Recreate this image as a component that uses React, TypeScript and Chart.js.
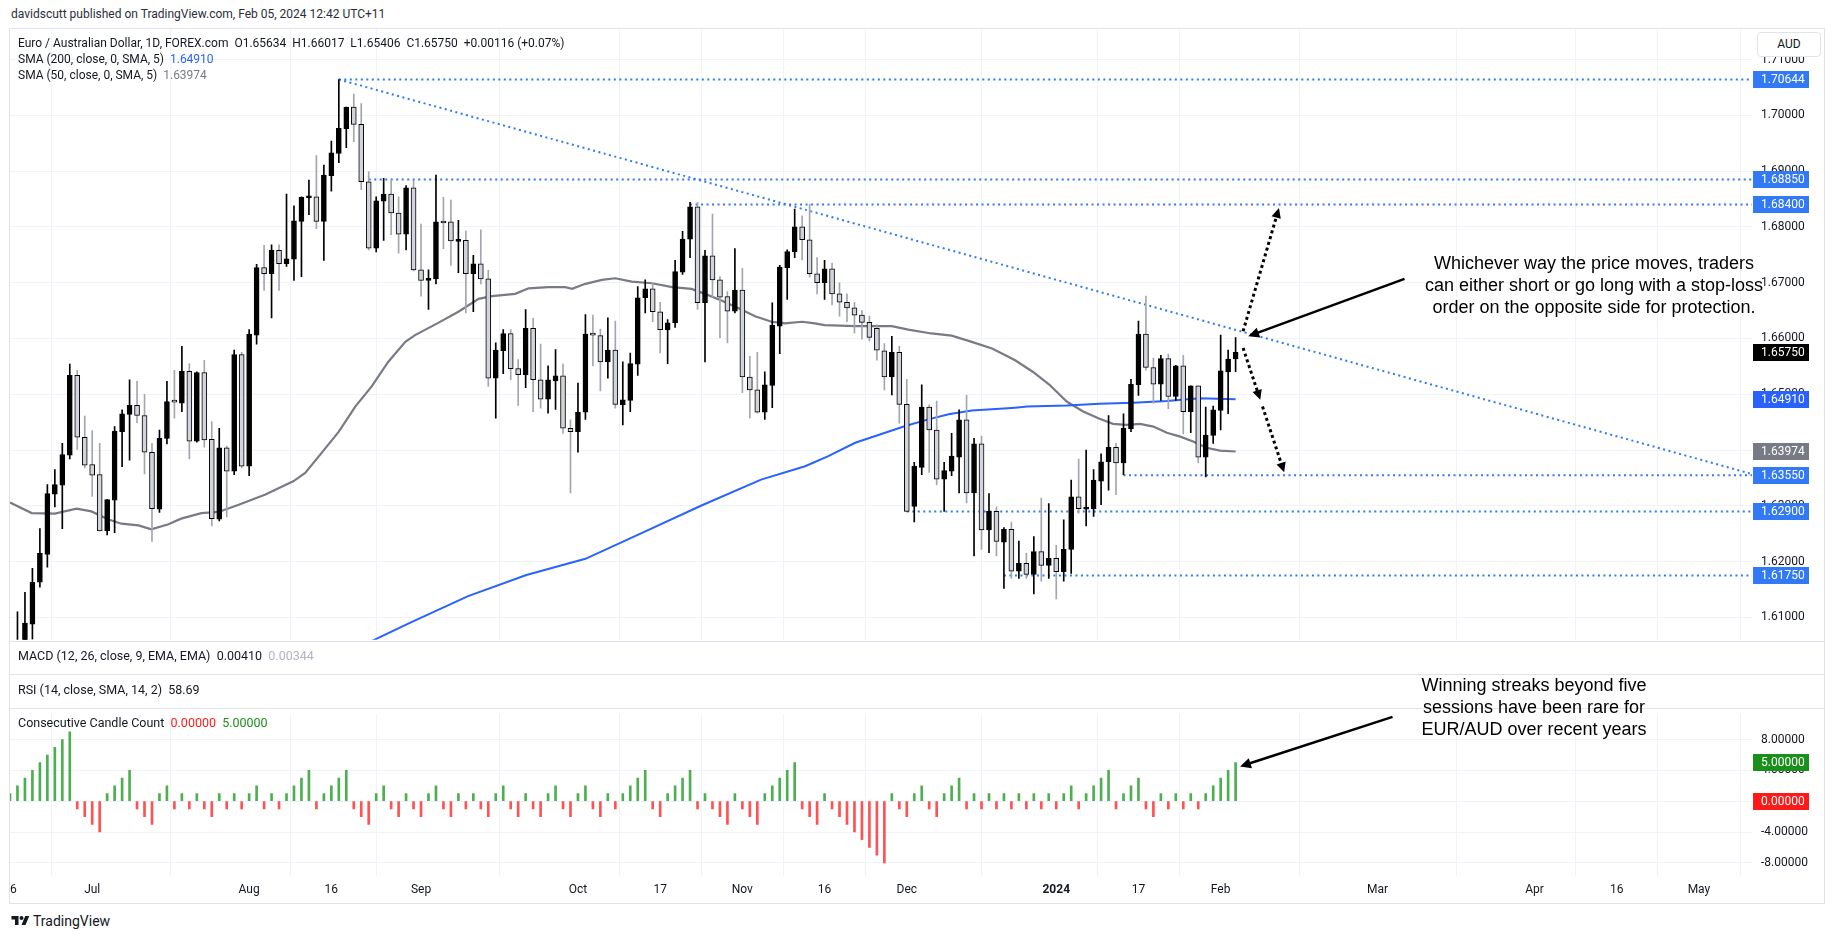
import React, { useEffect, useRef } from 'react';
import { Chart, registerables } from 'chart.js';
Chart.register(...registerables);

const FONT = "Roboto, 'Liberation Sans', Arial, sans-serif";

// ---------- price data (daily bars, index 0 = Jun 16 2023, 164 = Feb 05 2024) ----------
const OPEN = [
  1.5985,1.6008,1.6045,1.6088,1.6163,1.6213,1.6321,1.6337,1.6391,1.6534,
  1.6423,1.6374,1.6356,1.6255,1.6310,1.6433,1.6464,1.6480,1.6462,1.6396,
  1.6294,1.6421,1.6488,1.6484,1.6541,1.6416,1.6539,1.6419,1.6276,1.6404,
  1.6362,1.6571,1.6371,1.6606,1.6727,1.6716,1.6758,1.6734,1.6742,1.6810,
  1.6852,1.6854,1.6810,1.6892,1.6932,1.6976,1.7015,1.6984,1.6881,1.6762,
  1.6846,1.6859,1.6825,1.6787,1.6870,1.6723,1.6704,1.6707,1.6809,1.6809,
  1.6774,1.6776,1.6716,1.6734,1.6707,1.6529,1.6578,1.6609,1.6546,1.6535,
  1.6618,1.6526,1.6491,1.6524,1.6533,1.6439,1.6433,1.6468,1.6608,1.6605,
  1.6558,1.6579,1.6481,1.6489,1.6554,1.6673,1.6689,1.6648,1.6616,1.6628,
  1.6719,1.6778,1.6836,1.6664,1.6748,1.6705,1.6675,1.6649,1.6687,1.6531,
  1.6508,1.6468,1.6516,1.6622,1.6727,1.6755,1.6800,1.6777,1.6716,1.6700,
  1.6725,1.6680,1.6665,1.6655,1.6642,1.6629,1.6618,1.6578,1.6531,1.6575,
  1.6482,1.6299,1.6369,1.6477,1.6436,1.6348,1.6362,1.6387,1.6454,1.6323,
  1.6411,1.6257,1.6290,1.6235,1.6258,1.6183,1.6197,1.6177,1.6218,1.6193,
  1.6206,1.6182,1.6222,1.6316,1.6294,1.6295,1.6344,1.6379,1.6405,1.6377,
  1.6438,1.6517,1.6608,1.6548,1.6518,1.6564,1.6496,1.6551,1.6469,1.6515,
  1.6387,1.6426,1.6471,1.6540,1.65634,
];
const HIGH = [
  1.6030,1.6110,1.6145,1.6188,1.6259,1.6338,1.6365,1.6412,1.6554,1.6543,
  1.6461,1.6435,1.6412,1.6311,1.6442,1.6472,1.6526,1.6523,1.6500,1.6412,
  1.6436,1.6523,1.6543,1.6586,1.6555,1.6540,1.6561,1.6451,1.6439,1.6407,
  1.6579,1.6575,1.6616,1.6733,1.6767,1.6768,1.6768,1.6859,1.6838,1.6854,
  1.6884,1.6928,1.6911,1.6954,1.70644,1.7015,1.7038,1.7021,1.6899,1.6854,
  1.6887,1.6884,1.6854,1.6874,1.6884,1.6805,1.6723,1.6893,1.6853,1.6848,
  1.6812,1.6793,1.6749,1.6795,1.6722,1.6592,1.6616,1.6616,1.6562,1.6652,
  1.6636,1.6590,1.6551,1.6580,1.6554,1.6454,1.6520,1.6643,1.6642,1.6617,
  1.6637,1.6631,1.6558,1.6574,1.6693,1.6705,1.6699,1.6665,1.6634,1.6740,
  1.6792,1.6844,1.6844,1.6758,1.6823,1.6711,1.6684,1.6761,1.6726,1.6568,
  1.6575,1.6540,1.6664,1.6731,1.6759,1.6832,1.6820,1.6841,1.6745,1.6740,
  1.6735,1.6700,1.6680,1.6665,1.6650,1.6640,1.6625,1.6591,1.6604,1.6586,
  1.6527,1.6378,1.6517,1.6481,1.6488,1.6378,1.6430,1.6472,1.6498,1.6421,
  1.6425,1.6322,1.6298,1.6261,1.6271,1.6237,1.6215,1.6245,1.6314,1.6304,
  1.6229,1.6275,1.6346,1.6384,1.6400,1.6365,1.6393,1.6462,1.6412,1.6465,
  1.6527,1.6631,1.6676,1.6565,1.6570,1.6572,1.6552,1.6570,1.6515,1.6515,
  1.6477,1.6479,1.6606,1.6579,1.66017,
];
const LOW = [
  1.5970,1.5995,1.6040,1.6061,1.6154,1.6190,1.6298,1.6259,1.6384,1.6401,
  1.6368,1.6317,1.6255,1.6248,1.6252,1.6370,1.6382,1.6449,1.6357,1.6236,
  1.6288,1.6411,1.6457,1.6469,1.6384,1.6414,1.6405,1.6264,1.6273,1.6280,
  1.6356,1.6368,1.6354,1.6590,1.6686,1.6637,1.6686,1.6729,1.6704,1.6711,
  1.6822,1.6797,1.6740,1.6864,1.6915,1.6942,1.6953,1.6867,1.6759,1.6755,
  1.6776,1.6786,1.6753,1.6759,1.6721,1.6676,1.6652,1.6698,1.6761,1.6731,
  1.6718,1.6646,1.6648,1.6698,1.6514,1.6457,1.6537,1.6526,1.6480,1.6512,
  1.6469,1.6475,1.6466,1.6473,1.6430,1.6323,1.6396,1.6455,1.6551,1.6506,
  1.6529,1.6475,1.6445,1.6469,1.6534,1.6646,1.6630,1.6574,1.6555,1.6620,
  1.6715,1.6745,1.6652,1.6558,1.6674,1.6601,1.6592,1.6646,1.6503,1.6457,
  1.6466,1.6455,1.6476,1.6573,1.6670,1.6745,1.6741,1.6710,1.6680,1.6670,
  1.6660,1.6640,1.6630,1.6610,1.6599,1.6595,1.6561,1.6508,1.6499,1.6448,
  1.6290,1.6271,1.6356,1.6360,1.6338,1.6290,1.6354,1.6323,1.6305,1.6210,
  1.6222,1.6216,1.6210,1.6152,1.6170,1.6170,1.6170,1.6142,1.6165,1.6170,
  1.6133,1.6165,1.6179,1.6287,1.6264,1.6281,1.6302,1.6328,1.6320,1.6356,
  1.6433,1.6498,1.6543,1.6484,1.6489,1.6474,1.6489,1.6429,1.6431,1.6377,
  1.6352,1.6412,1.6436,1.6465,1.65406,
];
const CLOSE = [
  1.6010,1.6045,1.6090,1.6163,1.6215,1.6322,1.6338,1.6392,1.6534,1.6423,
  1.6373,1.6355,1.6255,1.6311,1.6434,1.6465,1.6480,1.6462,1.6396,1.6295,
  1.6421,1.6487,1.6486,1.6541,1.6416,1.6539,1.6418,1.6277,1.6404,1.6362,
  1.6571,1.6371,1.6608,1.6727,1.6716,1.6758,1.6734,1.6743,1.6811,1.6853,
  1.6854,1.6810,1.6893,1.6933,1.6977,1.7015,1.6984,1.6881,1.6762,1.6847,
  1.6859,1.6825,1.6787,1.6870,1.6723,1.6704,1.6708,1.6809,1.6807,1.6775,
  1.6776,1.6716,1.6734,1.6707,1.6529,1.6579,1.6609,1.6546,1.6535,1.6618,
  1.6526,1.6491,1.6526,1.6533,1.6439,1.6433,1.6468,1.6608,1.6606,1.6558,
  1.6579,1.6482,1.6490,1.6555,1.6673,1.6689,1.6648,1.6616,1.6628,1.6720,
  1.6778,1.6836,1.6664,1.6748,1.6705,1.6674,1.6649,1.6687,1.6531,1.6508,
  1.6468,1.6517,1.6624,1.6728,1.6756,1.6800,1.6777,1.6716,1.6700,1.6725,
  1.6680,1.6665,1.6655,1.6642,1.6629,1.6602,1.6579,1.6531,1.6575,1.6482,
  1.6290,1.6371,1.6477,1.6436,1.6348,1.6363,1.6389,1.6454,1.6323,1.6411,
  1.6257,1.6290,1.6236,1.6258,1.6183,1.6197,1.6177,1.6218,1.6193,1.6206,
  1.6182,1.6222,1.6316,1.6295,1.6296,1.6346,1.6379,1.6405,1.6377,1.6439,
  1.6518,1.6608,1.6548,1.6518,1.6564,1.6496,1.6551,1.6469,1.6515,1.6387,
  1.6427,1.6472,1.6542,1.6563,1.65750,
];

// Consecutive Candle Count indicator
const STREAK = [
  1,2,3,4,5,6,7,8,9,-1,
  -2,-3,-4,1,2,3,4,-1,-2,-3,
  1,2,-1,1,-1,1,-1,-2,1,-1,
  1,-1,1,2,-1,1,-1,1,2,3,
  4,-1,1,2,3,4,-1,-2,-3,1,
  2,-1,-2,1,-1,-2,1,2,-1,-2,
  1,-1,1,-1,-2,1,2,-1,-2,1,
  -1,-2,1,2,-1,-2,1,2,-1,-2,
  1,-1,1,2,3,4,-1,-2,1,2,
  3,4,-1,1,-1,-2,-3,1,-1,-2,
  -3,1,2,3,4,5,-1,-2,-3,1,
  -1,-2,-3,-4,-5,-6,-7,-8,1,-1,
  -2,1,2,-1,-2,1,2,3,-1,1,
  -1,1,-1,1,-1,1,-1,1,-1,1,
  -1,1,2,-1,1,2,3,4,-1,1,
  2,3,-1,-2,1,-1,1,-1,1,-1,
  1,2,3,4,5,
];

// moving averages: [bar index, value]
const SMA50: [number, number][] = [
  [0,1.6306],[2.9,1.6287],[6,1.6286],[8.9,1.6295],[10.9,1.6290],[13.1,1.6276],[14.9,1.6268],
  [17.2,1.6265],[18.9,1.6258],[21.2,1.6267],[22.9,1.6277],[25.6,1.6287],[27.9,1.6289],
  [30.6,1.6302],[34.1,1.6320],[37.9,1.6344],[39.5,1.6359],[41.7,1.6395],[44,1.6433],
  [46.2,1.6478],[48.4,1.6514],[50.6,1.6558],[52.9,1.6594],[54.2,1.6606],[57.3,1.6628],
  [60,1.6648],[62.7,1.6671],[64.5,1.6676],[67.6,1.6680],[69.4,1.6690],[72,1.6692],
  [74.3,1.6692],[75.2,1.6689],[77,1.6698],[79.2,1.6705],[81,1.6708],[83.2,1.6702],
  [85.9,1.6699],[88.6,1.6692],[91.2,1.6689],[93,1.6680],[95.2,1.6668],[97.5,1.6654],
  [99.7,1.6640],[101.9,1.6630],[103.7,1.6627],[106,1.6630],[107.7,1.6627],[109,1.6624],
  [113.1,1.6622],[118,1.6622],[120.2,1.6616],[123.3,1.6609],[126,1.6605],[128.7,1.6594],
  [131.4,1.6582],[133.2,1.6570],[134.5,1.6561],[136.9,1.6540],[139.1,1.6517],[141.4,1.6487],
  [143.6,1.6469],[145.8,1.6456],[147.6,1.6447],[149.4,1.6445],[151.2,1.6447],[153,1.6442],
  [154.8,1.6431],[156.6,1.6424],[158.4,1.6415],[160.1,1.6404],[161.9,1.6399],[164,1.63974],
];
const SMA200: [number, number][] = [
  [48,1.6055],[53.5,1.6090],[61.3,1.6138],[69.1,1.6176],[77,1.6205],[84.8,1.6253],
  [92.6,1.6301],[100.5,1.6347],[106.4,1.6371],[109.5,1.6389],[113.1,1.6413],[116.2,1.6427],
  [119.8,1.6443],[122.9,1.6455],[125.6,1.6464],[128.7,1.6471],[131.4,1.6473],[134.5,1.6476],
  [136.1,1.6478],[141.4,1.6480],[145.8,1.6483],[150.3,1.6485],[154.8,1.6488],[159.2,1.6493],
  [164,1.64910],
];

// horizontal levels (value, starting bar)
const LEVEL_VALUES = [1.70644, 1.6885, 1.684, 1.6355, 1.629, 1.6175];
const LEVEL_STARTS = [44, 48, 91, 149, 120, 133];
const TREND_START: [number, number] = [44, 1.70644];
const TREND_END: [number, number] = [233.1, 1.6357];

// axis labels
const TIME_TICKS = [0, 11, 32, 43, 55, 76, 87, 98, 109, 120, 140, 151, 162, 183, 204, 215, 226];
const TIME_LABELS = ['16', 'Jul', 'Aug', '16', 'Sep', 'Oct', '17', 'Nov', '16', 'Dec', '2024', '17', 'Feb', 'Mar', 'Apr', '16', 'May'];
const PRICE_TICKS = [1.71, 1.70, 1.69, 1.68, 1.67, 1.66, 1.65, 1.64, 1.63, 1.62, 1.61];
const COUNT_TICKS = [8, 4, 0, -4, -8];

const PRICE_TAGS = [1.70644, 1.6885, 1.684, 1.6575, 1.6491, 1.63974, 1.6355, 1.629, 1.6175];
const PRICE_TAG_COLORS = ['#3179f5', '#3179f5', '#3179f5', '#000000', '#2962ff', '#787b86', '#3179f5', '#3179f5', '#3179f5'];
const COUNT_TAGS = [5, 0];
const COUNT_TAG_COLORS = ['#1b8f1b', '#ff1a1a'];

// annotations (bar index, price)
const UP_ARROW = [[165.0, 1.6613], [169.8, 1.6834]];
const DOWN_ARROW_1 = [[165.0, 1.6583], [167.3, 1.6490]];
const DOWN_ARROW_2 = [[167.6, 1.6478], [170.5, 1.6360]];
const NOTE_ARROW = [[186.6, 1.6707], [165.7, 1.6604]];
const COUNT_NOTE_ARROW = [[185.0, 10.95], [164.6, 4.5]];

const X_MIN = 0;
const X_MAX = 233.1;
const GRID = '#f0f3fa';

function drawArrow(ctx: CanvasRenderingContext2D, x1: number, y1: number, x2: number, y2: number,
  width: number, dash: number[], head: number) {
  ctx.save();
  ctx.strokeStyle = '#000';
  ctx.fillStyle = '#000';
  ctx.lineWidth = width;
  ctx.setLineDash(dash);
  const ang = Math.atan2(y2 - y1, x2 - x1);
  const ex = x2 - Math.cos(ang) * head * 0.8;
  const ey = y2 - Math.sin(ang) * head * 0.8;
  ctx.beginPath();
  ctx.moveTo(x1, y1);
  ctx.lineTo(ex, ey);
  ctx.stroke();
  ctx.setLineDash([]);
  ctx.beginPath();
  ctx.moveTo(x2, y2);
  ctx.lineTo(x2 - head * Math.cos(ang - 0.45), y2 - head * Math.sin(ang - 0.45));
  ctx.lineTo(x2 - head * Math.cos(ang + 0.45), y2 - head * Math.sin(ang + 0.45));
  ctx.closePath();
  ctx.fill();
  ctx.restore();
}

function drawTags(chart: any, values: number[], colors: string[], fmt: (v: number) => string) {
  const ctx = chart.ctx as CanvasRenderingContext2D;
  const ys = chart.scales.y;
  const left = chart.chartArea.right + 1;
  ctx.save();
  ctx.font = `12px ${FONT}`;
  ctx.textBaseline = 'middle';
  ctx.textAlign = 'left';
  values.forEach((v, i) => {
    const y = ys.getPixelForValue(v);
    ctx.fillStyle = colors[i];
    ctx.fillRect(left, Math.round(y - 8.5), 56, 17);
    ctx.fillStyle = '#ffffff';
    ctx.fillText(fmt(v), chart.chartArea.right + 9, y + 0.5);
  });
  ctx.restore();
}

export default function App() {
  const mainRef = useRef<HTMLCanvasElement>(null);
  const histRef = useRef<HTMLCanvasElement>(null);

  useEffect(() => {
    const idx = OPEN.map((_, i) => i);
    const up = idx.map(i => CLOSE[i] >= OPEN[i]);

    const levelSets = LEVEL_VALUES.map((v, k) => ({
      type: 'line' as const,
      data: [{ x: LEVEL_STARTS[k], y: v }, { x: X_MAX, y: v }],
      borderColor: '#3179f5',
      borderWidth: 2,
      borderDash: [2, 3.5],
      pointRadius: 0,
      order: 2,
    }));

    const mainPlugin = {
      id: 'mainExtras',
      afterDatasetsDraw(chart: any) {
        const ctx = chart.ctx as CanvasRenderingContext2D;
        const xs = chart.scales.x, ys = chart.scales.y;
        const p = (a: number[]) => [xs.getPixelForValue(a[0]), ys.getPixelForValue(a[1])];
        [UP_ARROW, DOWN_ARROW_1, DOWN_ARROW_2].forEach(seg => {
          const [a, b] = [p(seg[0]), p(seg[1])];
          drawArrow(ctx, a[0], a[1], b[0], b[1], 3, [3, 3], 11);
        });
        const [a, b] = [p(NOTE_ARROW[0]), p(NOTE_ARROW[1])];
        drawArrow(ctx, a[0], a[1], b[0], b[1], 2.5, [], 12);
      },
      afterDraw(chart: any) {
        drawTags(chart, PRICE_TAGS, PRICE_TAG_COLORS, v => v.toFixed(5));
      },
    };

    const main = new Chart(mainRef.current!, {
      type: 'bar',
      data: {
        datasets: [
          {
            type: 'bar',
            data: idx.map(i => ({ x: i, y: [OPEN[i], CLOSE[i]] })) as any,
            backgroundColor: idx.map(i => (up[i] ? '#000000' : '#d1d4dc')),
            borderColor: '#000000',
            borderWidth: 1,
            borderSkipped: false,
            barThickness: 5,
            minBarLength: 2,
            grouped: false,
            order: 0,
          } as any,
          {
            type: 'bar',
            data: idx.map(i => ({ x: i, y: [LOW[i], HIGH[i]] })) as any,
            backgroundColor: idx.map(i => (up[i] ? '#000000' : '#a3a6af')),
            barThickness: 1,
            grouped: false,
            order: 1,
          } as any,
          ...levelSets,
          {
            type: 'line',
            data: [{ x: TREND_START[0], y: TREND_START[1] }, { x: TREND_END[0], y: TREND_END[1] }],
            borderColor: '#3179f5',
            borderWidth: 2,
            borderDash: [2, 3.5],
            pointRadius: 0,
            order: 2,
          } as any,
          {
            type: 'line',
            data: SMA200.map(([x, y]) => ({ x, y })),
            borderColor: '#2962ff',
            borderWidth: 2,
            pointRadius: 0,
            order: 3,
          } as any,
          {
            type: 'line',
            data: SMA50.map(([x, y]) => ({ x, y })),
            borderColor: '#787b86',
            borderWidth: 2.2,
            pointRadius: 0,
            order: 3,
          } as any,
        ],
      },
      options: {
        responsive: false,
        animation: false,
        events: [],
        layout: { padding: { left: 10, right: 0, top: 15, bottom: 15 } },
        plugins: { legend: { display: false }, tooltip: { enabled: false } },
        scales: {
          x: {
            type: 'linear',
            min: X_MIN,
            max: X_MAX,
            offset: false,
            afterBuildTicks: (s: any) => { s.ticks = TIME_TICKS.map(v => ({ value: v })); },
            afterFit: (s: any) => { s.height = 0; },
            ticks: { display: false },
            grid: { color: GRID, drawTicks: false },
            border: { display: false },
          },
          y: {
            type: 'linear',
            position: 'right',
            min: 1.60598,
            max: 1.71545,
            afterBuildTicks: (s: any) => { s.ticks = PRICE_TICKS.map(v => ({ value: v })); },
            afterFit: (s: any) => { s.width = 83; },
            ticks: {
              padding: 9,
              color: '#131722',
              font: { family: FONT, size: 12 },
              callback: (v: any) => Number(v).toFixed(5),
            },
            grid: { color: GRID, drawTicks: false },
            border: { display: false },
          },
        },
      } as any,
      plugins: [mainPlugin],
    });

    const histPlugin = {
      id: 'histExtras',
      afterDraw(chart: any) {
        const ctx = chart.ctx as CanvasRenderingContext2D;
        const xs = chart.scales.x, ys = chart.scales.y;
        const ca = chart.chartArea;
        ctx.save();
        ctx.beginPath();
        ctx.rect(ca.left, ca.bottom, chart.width - ca.left, chart.height - ca.bottom);
        ctx.clip();
        ctx.fillStyle = '#131722';
        ctx.textBaseline = 'middle';
        ctx.textAlign = 'center';
        TIME_TICKS.forEach((t, i) => {
          ctx.font = `${TIME_LABELS[i] === '2024' ? 'bold ' : ''}12px ${FONT}`;
          ctx.fillText(TIME_LABELS[i], xs.getPixelForValue(t), ca.bottom + 13.5);
        });
        ctx.restore();
        drawTags(chart, COUNT_TAGS, COUNT_TAG_COLORS, v => v.toFixed(5));
        const a = [xs.getPixelForValue(COUNT_NOTE_ARROW[0][0]), ys.getPixelForValue(COUNT_NOTE_ARROW[0][1])];
        const b = [xs.getPixelForValue(COUNT_NOTE_ARROW[1][0]), ys.getPixelForValue(COUNT_NOTE_ARROW[1][1])];
        drawArrow(ctx, a[0], a[1], b[0], b[1], 2.5, [], 12);
      },
    };

    const hist = new Chart(histRef.current!, {
      type: 'bar',
      data: {
        datasets: [
          {
            data: idx.map(i => ({ x: i, y: STREAK[i] })) as any,
            backgroundColor: idx.map(i => (STREAK[i] > 0 ? '#4caf50' : '#ff5252')),
            barThickness: 2,
            grouped: false,
          } as any,
        ],
      },
      options: {
        responsive: false,
        animation: false,
        events: [],
        layout: { padding: { left: 10, right: 0, top: 10, bottom: 0 } },
        plugins: { legend: { display: false }, tooltip: { enabled: false } },
        scales: {
          x: {
            type: 'linear',
            min: X_MIN,
            max: X_MAX,
            offset: false,
            afterBuildTicks: (s: any) => { s.ticks = TIME_TICKS.map(v => ({ value: v })); },
            afterFit: (s: any) => { s.height = 27; },
            ticks: { display: false },
            grid: { color: GRID, drawTicks: false },
            border: { display: false },
          },
          y: {
            type: 'linear',
            position: 'right',
            min: -9.71,
            max: 11.29,
            afterBuildTicks: (s: any) => { s.ticks = COUNT_TICKS.map(v => ({ value: v })); },
            afterFit: (s: any) => { s.width = 83; },
            ticks: {
              padding: 9,
              color: '#131722',
              font: { family: FONT, size: 12 },
              callback: (v: any) => Number(v).toFixed(5),
            },
            grid: { color: GRID, drawTicks: false },
            border: { display: false },
          },
        },
      } as any,
      plugins: [histPlugin],
    });

    return () => { main.destroy(); hist.destroy(); };
  }, []);

  const txt = (extra: React.CSSProperties): React.CSSProperties => ({
    position: 'absolute', whiteSpace: 'nowrap', fontSize: 12, lineHeight: '16px', color: '#131722', ...extra,
  });
  const sep = (top: number): React.CSSProperties => ({
    position: 'absolute', left: 10, top, width: 1814, height: 1, background: '#e0e3eb',
  });
  const note: React.CSSProperties = {
    position: 'absolute', width: 420, textAlign: 'center', fontFamily: "'Liberation Sans', Arial, sans-serif",
    fontSize: 18, lineHeight: '22px', color: '#000',
  };

  return (
    <div style={{ position: 'absolute', left: 0, top: 0, width: 1835, height: 939, background: '#fff', overflow: 'hidden', fontFamily: FONT }}>
      <div style={txt({ left: 11, top: 6, color: '#2a2e39' })}>
        davidscutt published on TradingView.com, Feb 05, 2024 12:42 UTC+11
      </div>
      {/* frame */}
      <div style={{ position: 'absolute', left: 9, top: 28, width: 1814, height: 874, border: '1px solid #e0e3eb' }} />
      <canvas ref={mainRef} width={1835} height={643} style={{ position: 'absolute', left: 0, top: 13, width: 1835, height: 643 }} />
      <canvas ref={histRef} width={1835} height={205} style={{ position: 'absolute', left: 0, top: 698, width: 1835, height: 205 }} />
      <div style={sep(641)} />
      <div style={sep(674)} />
      <div style={sep(708)} />

      {/* legends */}
      <div style={txt({ left: 18, top: 35 })}>
        Euro / Australian Dollar, 1D, FOREX.com&nbsp;&nbsp;O1.65634&nbsp;&nbsp;H1.66017&nbsp;&nbsp;L1.65406&nbsp;&nbsp;C1.65750&nbsp;&nbsp;+0.00116 (+0.07%)
      </div>
      <div style={txt({ left: 18, top: 51 })}>
        SMA (200, close, 0, SMA, 5)&nbsp;&nbsp;<span style={{ color: '#2962ff' }}>1.64910</span>
      </div>
      <div style={txt({ left: 18, top: 67 })}>
        SMA (50, close, 0, SMA, 5)&nbsp;&nbsp;<span style={{ color: '#787b86' }}>1.63974</span>
      </div>
      <div style={txt({ left: 18, top: 648, fontSize: 12.5 })}>
        MACD (12, 26, close, 9, EMA, EMA)&nbsp;&nbsp;0.00410&nbsp;&nbsp;<span style={{ color: '#b2b5be' }}>0.00344</span>
      </div>
      <div style={txt({ left: 18, top: 682, fontSize: 12.5 })}>
        RSI (14, close, SMA, 14, 2)&nbsp;&nbsp;58.69
      </div>
      <div style={txt({ left: 18, top: 715, fontSize: 12.5 })}>
        Consecutive Candle Count&nbsp;&nbsp;<span style={{ color: '#ff1a1a' }}>0.00000</span>&nbsp;&nbsp;<span style={{ color: '#1b8f1b' }}>5.00000</span>
      </div>

      {/* AUD box */}
      <div style={{ position: 'absolute', left: 1757, top: 32, width: 62, height: 23, border: '1px solid #e0e3eb', borderRadius: 4, background: '#fff', fontSize: 12, lineHeight: '23px', textAlign: 'center', color: '#131722' }}>AUD</div>

      {/* annotations */}
      <div style={{ ...note, left: 1384, top: 252 }}>
        Whichever way the price moves, traders<br />can either short or go long with a stop-loss<br />order on the opposite side for protection.
      </div>
      <div style={{ ...note, left: 1324, top: 674 }}>
        Winning streaks beyond five<br />sessions have been rare for<br />EUR/AUD over recent years
      </div>

      {/* TradingView logo */}
      <svg style={{ position: 'absolute', left: 11, top: 914 }} width="19" height="14" viewBox="0 0 36 28">
        <path d="M14 22H7V11H0V4h14v18z" fill="#131722" />
        <circle cx="20" cy="8" r="4" fill="#131722" />
        <path d="M28 22h-8l7.5-18h8L28 22z" fill="#131722" />
      </svg>
      <div style={txt({ left: 33, top: 913, fontSize: 14, lineHeight: '16px' })}>TradingView</div>
    </div>
  );
}
